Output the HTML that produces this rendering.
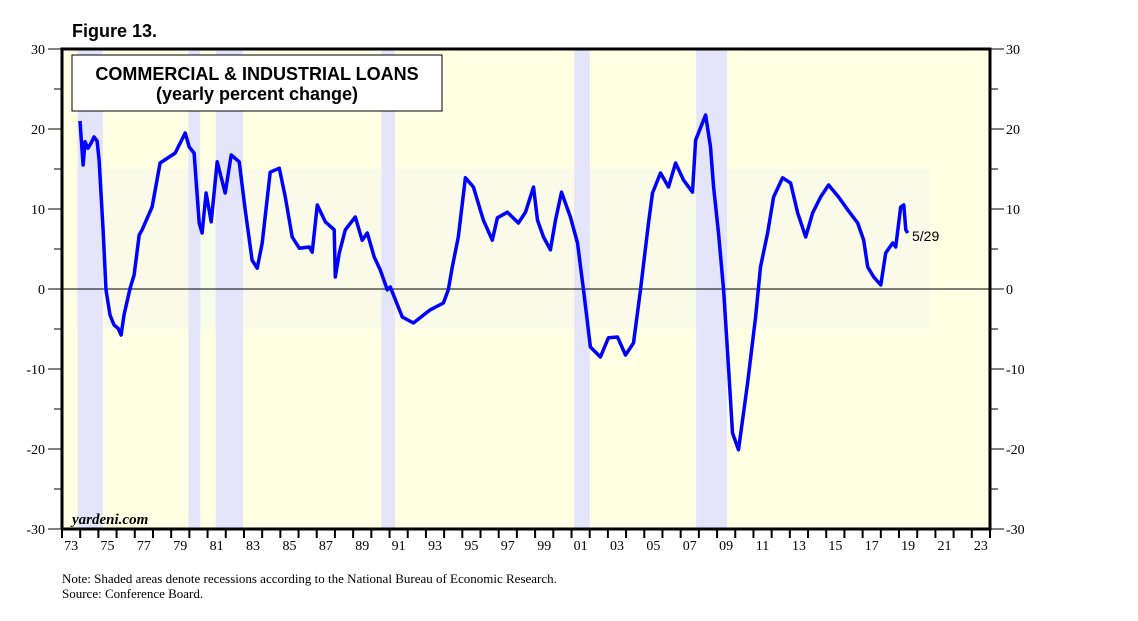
<!DOCTYPE html>
<html><head><meta charset="utf-8"><style>
body{margin:0;background:#fff;}
svg{display:block;}
</style></head><body>
<svg id="c" width="1138" height="621" xmlns="http://www.w3.org/2000/svg"></svg>
<script>
const years=[0.99,1.16,1.27,1.43,1.60,1.76,1.93,2.04,2.26,2.42,2.64,2.86,3.08,3.25,3.41,3.74,3.96,4.24,4.40,4.95,5.39,6.22,6.77,6.99,7.26,7.54,7.70,7.92,8.20,8.53,8.97,9.30,9.74,10.07,10.45,10.73,11.00,11.44,11.94,12.27,12.65,13.04,13.59,13.75,14.03,14.47,14.96,15.02,15.24,15.57,16.12,16.50,16.78,17.16,17.49,17.88,18.04,18.70,19.31,20.24,20.96,21.23,21.45,21.78,22.17,22.61,23.16,23.65,23.93,24.48,25.08,25.47,25.91,26.13,26.46,26.84,27.12,27.45,27.94,28.33,28.66,29.04,29.59,30.03,30.53,30.97,31.41,31.79,32.23,32.45,32.89,33.33,33.72,34.16,34.65,34.82,35.37,35.64,35.81,36.08,36.36,36.63,36.85,37.18,37.68,38.12,38.39,38.78,39.11,39.60,40.04,40.43,40.87,41.25,41.69,42.13,42.68,43.18,43.73,44.06,44.28,44.61,45.00,45.27,45.65,45.82,46.09,46.26,46.37,46.48];
const values=[21.0,15.5,18.4,17.6,18.25,19.0,18.5,16.1,7.4,-0.1,-3.25,-4.5,-4.9,-5.75,-3.25,0.1,1.75,6.75,7.4,10.25,15.75,17.0,19.5,17.75,17.0,8.25,7.0,12.0,8.4,15.9,12.0,16.75,15.9,9.9,3.6,2.6,5.75,14.6,15.1,11.5,6.5,5.1,5.25,4.6,10.5,8.4,7.4,1.5,4.5,7.4,9.0,6.1,7.0,4.0,2.4,-0.1,0.25,-3.5,-4.25,-2.6,-1.75,-0.1,2.75,6.5,13.9,12.75,8.6,6.1,8.9,9.6,8.25,9.6,12.75,8.6,6.5,4.9,8.6,12.1,9.0,5.75,-0.1,-7.25,-8.5,-6.1,-6.0,-8.25,-6.75,-0.1,8.25,12.0,14.5,12.75,15.75,13.6,12.1,18.6,21.75,17.75,12.75,7.0,-0.1,-9.75,-18.0,-20.1,-11.75,-3.5,2.75,7.0,11.5,13.9,13.25,9.5,6.5,9.5,11.5,13.0,11.5,9.9,8.25,6.1,2.75,1.5,0.5,4.5,5.75,5.25,10.25,10.5,7.4,7.0];
const recStart=[1973.85,1979.95,1981.45,1990.55,2001.15,2007.85];
const recEnd=[1975.25,1980.6,1982.95,1991.3,2002.0,2009.55];
const yTicks=[30,20,10,0,-10,-20,-30];
const xLabels=['73','75','77','79','81','83','85','87','89','91','93','95','97','99','01','03','05','07','09','11','13','15','17','19','21','23'];

const L=62,R=990,T=49,B=529,Y0=1973,Y1=2024;
const sx=y=>L+(y-Y0)*(R-L)/(Y1-Y0);
const sy=v=>T+(30-v)*(B-T)/60;
const svg=document.getElementById('c');
const NS='http://www.w3.org/2000/svg';
function mk(tag,at,parent){const e=document.createElementNS(NS,tag);for(const k in at)e.setAttribute(k,at[k]);(parent||svg).appendChild(e);return e;}

let e=mk('rect',{x:L,y:T,width:R-L,height:B-T,fill:'#ffffe3'});


e=mk('rect',{x:sx(1973.8),y:sy(15),width:sx(2020.7)-sx(1973.8),height:sy(-5)-sy(15),fill:'#fafae9'});


for(let i=0;i<recStart.length;i++){
  e=mk('rect',{x:sx(recStart[i]),y:T,width:sx(recEnd[i])-sx(recStart[i]),height:B-T,fill:'#e4e4fb'});
  
  
}
e=mk('line',{x1:L,x2:R,y1:sy(0),y2:sy(0),stroke:'#000','stroke-width':1});



for(let v=-30;v<=30;v+=5){
  const y=sy(v);
  const len=v%10===0?14:8;
  mk('line',{x1:L-len,x2:L,y1:y,y2:y,stroke:'#000','stroke-width':1});
  mk('line',{x1:R,x2:R+len,y1:y,y2:y,stroke:'#000','stroke-width':1});
}
yTicks.forEach(v=>{
  let t=mk('text',{x:45,y:sy(v)+5,'text-anchor':'end','font-family':'Liberation Serif, serif','font-size':14,fill:'#000'});
  t.textContent=v;
  
  
  t=mk('text',{x:1006,y:sy(v)+5,'font-family':'Liberation Serif, serif','font-size':14,fill:'#000'});
  t.textContent=v;
  
  
});
for(let y=Y0;y<=Y1;y++){
  mk('line',{x1:sx(y),x2:sx(y),y1:B,y2:B+9,stroke:'#000','stroke-width':2});
}
xLabels.forEach((lb,i)=>{
  const t=mk('text',{x:sx(Y0+2*i+0.5),y:B+21,'text-anchor':'middle','font-family':'Liberation Serif, serif','font-size':14,fill:'#000'});
  t.textContent=lb;
  
  
});

let d='';
for(let i=0;i<years.length;i++){d+=(i?'L':'M')+sx(Y0+years[i]).toFixed(1)+','+sy(values[i]).toFixed(1);}
e=mk('path',{d:d,fill:'none',stroke:'#0000ff','stroke-width':3.5,'stroke-linejoin':'round'});



e=mk('path',{d:`M${L},${B}L${L},${T}L${R},${T}L${R},${B}L${L},${B}`,fill:'none',stroke:'#000','stroke-width':3});



const g=mk('g',{});


mk('rect',{x:72,y:55,width:370,height:56,fill:'#fff',stroke:'#000','stroke-width':1},g);
let t=mk('text',{x:257,y:80,'text-anchor':'middle','font-family':'Liberation Sans, sans-serif','font-size':18,'font-weight':'bold'},g);
t.textContent='COMMERCIAL & INDUSTRIAL LOANS';


t=mk('text',{x:257,y:100,'text-anchor':'middle','font-family':'Liberation Sans, sans-serif','font-size':18,'font-weight':'bold'},g);
t.textContent='(yearly percent change)';



t=mk('text',{x:72,y:37,'font-family':'Liberation Sans, sans-serif','font-size':18,'font-weight':'bold'});
t.textContent='Figure 13.';


t=mk('text',{x:72,y:524,'font-family':'Liberation Serif, serif','font-size':15,'font-weight':'bold','font-style':'italic'});
t.textContent='yardeni.com';


t=mk('text',{x:912,y:241,'font-family':'Liberation Sans, sans-serif','font-size':14});
t.textContent='5/29';


t=mk('text',{x:62,y:583,'font-family':'Liberation Serif, serif','font-size':13});
t.textContent='Note: Shaded areas denote recessions according to the National Bureau of Economic Research.';


t=mk('text',{x:62,y:598,'font-family':'Liberation Serif, serif','font-size':13});
t.textContent='Source: Conference Board.';


</script>
</body></html>
